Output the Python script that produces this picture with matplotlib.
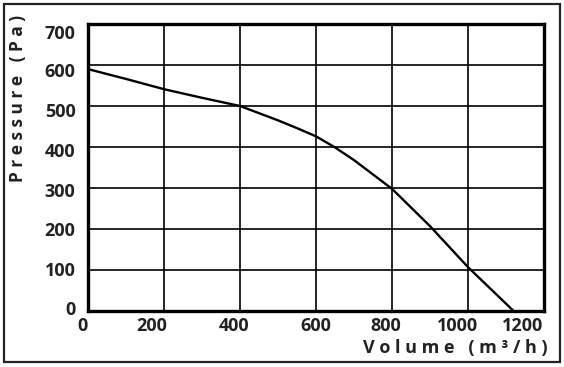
import matplotlib.pyplot as plt
from matplotlib.patches import Rectangle
from matplotlib.transforms import ScaledTranslation

plt.rcParams['font.family'] = ['Open Sans', 'DejaVu Sans']

# fan curve
volume = [0, 100, 200, 300, 400, 500, 550, 600, 650, 700, 800, 900, 1000, 1120]
pressure = [590, 566, 541, 520, 500, 465, 446, 426, 399, 368, 298, 207, 107, 0]

x_ticks = [0, 200, 400, 600, 800, 1000, 1200]
y_ticks = [0, 100, 200, 300, 400, 500, 600, 700]

W, H = 564, 367
fig = plt.figure(figsize=(W / 100, H / 100), dpi=100)
ax = fig.add_axes([88 / W, 1 - 311 / H, (544 - 88) / W, (311 - 24) / H])

ax.plot(volume, pressure, color='black', lw=1.7, solid_capstyle='round')

ax.set_xlim(0, 1200)
ax.set_ylim(0, 700)
ax.set_xticks(x_ticks)
ax.set_yticks(y_ticks)
ax.grid(True, color='black', lw=1.2)
for s in ax.spines.values():
    s.set_linewidth(2.4)
ax.tick_params(length=0, labelsize=13, colors='#222222')
ax.tick_params(axis='x', pad=4)
ax.tick_params(axis='y', pad=9)

# the labels in the original sit a little off their grid lines
x_shift = [-6, -12, -6, 0, -6, -11, -21]
y_shift = [-3, -1, 0, 2, 3, 4, 5, 8]
for lab, dx in zip(ax.get_xticklabels(), x_shift):
    lab.set_fontweight('bold')
    lab.set_transform(lab.get_transform() + ScaledTranslation(dx / 100, 0, fig.dpi_scale_trans))
for lab, dy in zip(ax.get_yticklabels(), y_shift):
    lab.set_fontweight('bold')
    lab.set_transform(lab.get_transform() + ScaledTranslation(0, -dy / 100, fig.dpi_scale_trans))

ax.set_xlabel('V o l u m e   ( m ³ / h )', fontsize=13, fontweight='bold',
              color='#222222', ha='right', va='center')
ax.xaxis.set_label_coords((548 - 88) / 456, (311 - 348) / 287)
ax.set_ylabel('P r e s s u r e   ( P a )', fontsize=12.5, fontweight='bold',
              color='#222222', ha='right', va='center')
ax.yaxis.set_label_coords((18 - 88) / 456, (311 - 15) / 287)

# frame around the whole picture
fig.patches.append(Rectangle((4 / W, 1 - 362 / H), (560 - 4) / W, (362 - 4) / H,
                             transform=fig.transFigure, fill=False,
                             edgecolor='#222222', lw=1.6))

fig.savefig('out.png', dpi=100)
